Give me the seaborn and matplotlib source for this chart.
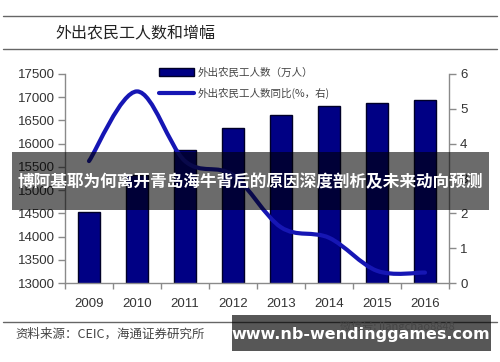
import numpy as np
import pandas as pd
import matplotlib
matplotlib.use("Agg")
import matplotlib.pyplot as plt
from matplotlib.path import Path
from matplotlib.patches import PathPatch, Patch, Rectangle
from matplotlib.lines import Line2D
import seaborn as sns

years = ["2009", "2010", "2011", "2012", "2013", "2014", "2015", "2016"]
workers = [14533, 15335, 15863, 16336, 16610, 16821, 16884, 16934]
growth = [3.5, 5.5, 3.5, 3.1, 1.6, 1.3, 0.35, 0.3]
left_ticks = [13000, 13500, 14000, 14500, 15000, 15500, 16000, 16500, 17000, 17500]
right_ticks = [0, 1, 2, 3, 4, 5, 6]

title = "外出农民工人数和增幅"
bar_label = "外出农民工人数（万人）"
line_label = "外出农民工人数同比(%，右)"
source = "资料来源：CEIC，海通证券研究所"
watermark = "微信号: jiangchao8848"
banner = "博阿基耶为何离开青岛海牛背后的原因深度剖析及未来动向预测"
site = "www.nb-wendinggames.com"

sns.set_theme(style="white")
plt.rcParams["font.family"] = ["Liberation Sans", "Noto Sans CJK SC", "DejaVu Sans"]
CJK = ["Noto Sans CJK SC", "DejaVu Sans"]

fig = plt.figure(figsize=(5.0, 3.62), dpi=100)
ax = fig.add_axes([0.13, 0.2182, 0.768, 0.5774])

df = pd.DataFrame({"year": years, "workers": workers})
sns.barplot(data=df, x="year", y="workers", color="#000084", saturation=1,
            width=0.44, edgecolor="#000028", linewidth=1.0, ax=ax)
ax.set_ylim(13000, 17500)
ax.set_xlim(-0.5, len(years) - 0.5)
ax.set_yticks(left_ticks)
ax.set_yticklabels([str(t) for t in left_ticks])
ax.set_xlabel("")
ax.set_ylabel("")

ax2 = ax.twinx()
ax2.set_ylim(0, 6)
ax2.set_yticks(right_ticks)
ax2.set_yticklabels([str(t) for t in right_ticks])

# smoothed line (Excel-like) through the data points
xs = np.arange(len(growth), dtype=float)
ys = np.array(growth, dtype=float)
pts = np.column_stack([xs, ys])
verts = [tuple(pts[0])]
codes = [Path.MOVETO]
n = len(pts)
for i in range(n - 1):
    p0 = pts[i - 1] if i > 0 else pts[i]
    p1 = pts[i]
    p2 = pts[i + 1]
    p3 = pts[i + 2] if i + 2 < n else pts[i + 1]
    c1 = p1 + (p2 - p0) / 6.0
    c2 = p2 - (p3 - p1) / 6.0
    verts += [tuple(c1), tuple(c2), tuple(p2)]
    codes += [Path.CURVE4] * 3
ax2.add_patch(PathPatch(Path(verts, codes), facecolor="none",
                        edgecolor="#1616b4", linewidth=3.0, capstyle="round",
                        zorder=5))

spine_c = "#8a8a8a"
for a in (ax, ax2):
    for s in a.spines.values():
        s.set_color(spine_c)
        s.set_linewidth(1.0)
    a.spines["top"].set_visible(False)
ax.spines["right"].set_visible(False)
ax2.spines["left"].set_visible(False)
ax2.spines["bottom"].set_visible(False)

ax.tick_params(axis="y", left=True, length=5, width=1, color=spine_c,
               labelsize=9.5, labelcolor="#333333", pad=2)
ax2.tick_params(axis="y", right=True, length=5, width=1, color=spine_c,
                labelsize=9.5, labelcolor="#333333", pad=3)
ax.set_xticks(np.arange(-0.5, len(years), 1.0), minor=True)
ax.tick_params(axis="x", which="major", bottom=False, labelsize=9.5,
               labelcolor="#333333", pad=5)
ax.tick_params(axis="x", which="minor", bottom=True, length=4, width=1,
               color=spine_c)

handles = [Patch(facecolor="#000084", edgecolor="#000028"),
           Line2D([], [], color="#1616b4", linewidth=3.0)]
leg = fig.legend(handles, [bar_label, line_label], loc="upper left",
                 bbox_to_anchor=(0.31, 0.825), frameon=False,
                 prop={"family": CJK, "size": 7.6}, handlelength=3.3,
                 handletextpad=0.3, labelspacing=0.95, borderaxespad=0)
for t in leg.get_texts():
    t.set_color("#444444")

# header lines and title
fig.add_artist(Line2D([0.006, 0.994], [1 - 16 / 362, 1 - 16 / 362],
                      color="#666666", linewidth=1.0))
fig.add_artist(Line2D([0.006, 0.994], [1 - 49 / 362, 1 - 49 / 362],
                      color="#666666", linewidth=1.0))
fig.text(0.11, 1 - 33 / 362, title, family=CJK, fontsize=11.5,
         color="#222222", va="center", ha="left")

# footer
fig.add_artist(Line2D([0.006, 0.994], [1 - 322 / 362, 1 - 322 / 362],
                      color="#666666", linewidth=1.0))
fig.text(0.03, 1 - 334 / 362, source, family=CJK, fontsize=9,
         color="#444444", va="center", ha="left")
fig.text(0.68, 1 - 326 / 362, watermark, family=CJK, fontsize=8,
         color="#cccccc", va="center", ha="left")

# overlay banners
fig.add_artist(Rectangle((12 / 500, 1 - 210 / 362), 477 / 500, 58 / 362,
                         transform=fig.transFigure, facecolor="#000000",
                         alpha=0.58, edgecolor="none", zorder=10))
fig.text(0.5, 1 - 182 / 362, banner, family=CJK, fontsize=12.0,
         fontweight="bold", color="white", va="center", ha="center",
         zorder=11)
fig.add_artist(Rectangle((232 / 500, 1 - 351 / 362), 259 / 500, 36 / 362,
                         transform=fig.transFigure, facecolor="#000000",
                         alpha=0.66, edgecolor="none", zorder=10))
fig.text(361 / 500, 1 - 334 / 362, site, family=["DejaVu Sans"],
         fontsize=11.5, fontweight="bold", color="white", va="center",
         ha="center", zorder=11)

fig.savefig("out.png", dpi=100)
